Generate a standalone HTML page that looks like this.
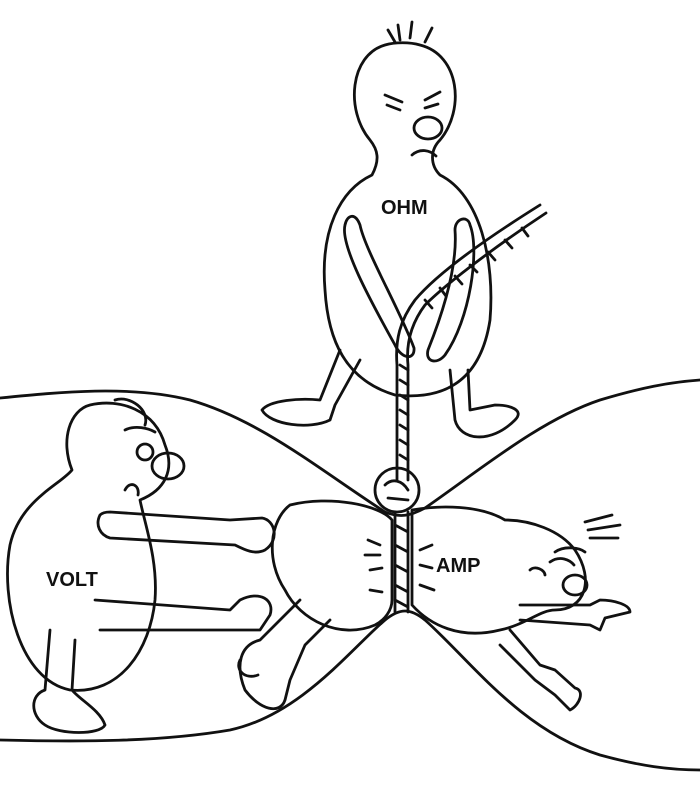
<!DOCTYPE html>
<html><head><style>
html,body{margin:0;padding:0;background:#fff;width:700px;height:789px;overflow:hidden}
svg{display:block}
text{font-family:"Liberation Sans",sans-serif;font-weight:bold;font-size:20px;fill:#111}
</style></head><body>
<svg width="700" height="789" viewBox="0 0 700 789" fill="none" stroke="#111" stroke-width="2.8" stroke-linecap="round" stroke-linejoin="round">
<!-- pipe -->
<path d="M0,398 C60,392 130,385 190,400 C260,420 320,470 385,512 C400,518 410,516 425,508 C480,470 540,420 600,400 C640,388 670,382 700,380"/>
<path d="M0,740 C80,742 160,742 230,730 C300,715 350,650 385,620 C400,608 410,608 425,620 C470,660 520,730 600,755 C640,766 670,770 700,770"/>
<!-- OHM -->
<path d="M385,45 C350,55 345,110 370,140 C378,150 380,160 372,175 C340,190 320,230 325,290 C328,340 345,380 395,395 C440,400 480,385 490,320 C495,260 480,195 440,175 C430,165 430,150 440,140 C465,110 460,55 420,45 C410,42 395,42 385,45Z"/>
<path d="M400,40 L398,25 M410,38 L412,22 M425,42 L432,28 M395,42 L388,30"/>
<path d="M385,95 L402,102 M425,100 L440,92 M387,105 L400,110 M425,108 L438,104"/>
<ellipse cx="428" cy="128" rx="14" ry="11"/>
<path d="M412,155 C420,148 430,150 436,156"/>
<path d="M345,225 C340,245 370,300 395,345 C402,360 415,360 414,348 C400,310 365,250 360,225 C355,212 347,215 345,225Z"/>
<path d="M470,225 C480,250 470,320 445,355 C437,365 425,362 428,350 C440,320 458,270 455,230 C455,218 468,215 470,225Z"/>
<path d="M340,350 L320,400 C300,398 270,400 262,410 C270,425 310,430 330,420 L335,405 L360,360"/>
<path d="M450,370 L455,420 C460,440 490,445 515,420 C525,410 510,405 495,405 L470,410 L468,370"/>
<!-- rope -->
<path d="M540,205 C500,230 440,270 415,300 C400,320 395,340 397,365 L397,480"/>
<path d="M546,213 C505,240 450,280 425,305 C410,325 406,345 408,365 L408,480"/>
<path d="M400,365 L408,370 M400,380 L408,385 M400,395 L408,400 M400,410 L408,415 M400,425 L408,430 M400,440 L408,445 M400,455 L408,460 M425,300 L432,308 M440,288 L446,296 M455,276 L462,284 M470,265 L477,272 M488,252 L495,260 M505,240 L512,248 M522,228 L528,236"/>
<ellipse cx="397" cy="490" rx="22" ry="22"/>
<path d="M385,485 C392,478 402,480 408,490 M388,498 L408,500"/>
<path d="M395,512 L395,612 M408,512 L408,612 M395,525 L408,532 M395,545 L408,552 M395,565 L408,572 M395,585 L408,592 M395,600 L408,607"/>
<!-- VOLT -->
<path d="M90,405 C70,410 60,440 72,470 C60,485 20,500 10,545 C0,600 20,680 70,690 C120,695 150,650 155,600 C158,560 145,525 140,500 C165,490 175,470 165,445 C155,410 120,398 90,405Z"/>
<path d="M115,400 C130,395 150,410 145,425"/>
<ellipse cx="168" cy="466" rx="16" ry="13"/>
<circle cx="145" cy="452" r="8"/>
<path d="M125,430 C135,425 148,428 155,432 M125,490 C130,480 140,485 138,495"/>
<path d="M100,515 C95,525 100,535 110,538 L235,545 C245,550 255,555 265,550 C280,540 275,520 262,518 L230,520 L110,512 C105,512 102,513 100,515Z"/>
<path d="M95,600 L230,610 L240,600 C260,590 275,600 270,615 L260,630 L232,630 L100,630"/>
<path d="M50,630 L45,690 C30,695 30,715 45,725 C60,735 100,735 105,725 C100,710 80,700 72,690 L75,640"/>
<!-- AMP -->
<path d="M290,505 C270,520 265,560 285,590 C300,620 340,640 375,625 C385,620 392,610 392,600 L392,520 C380,505 330,495 290,505Z"/>
<path d="M412,510 C440,505 480,505 505,520 C530,520 560,530 575,550 C595,580 585,610 555,610 C540,610 525,625 500,630 C460,640 430,625 412,605Z"/>
<path d="M585,522 L612,515 M588,530 L620,525 M590,538 L618,538 M555,552 C565,545 580,548 585,552 M550,562 C560,555 570,560 574,565"/>
<ellipse cx="575" cy="585" rx="12" ry="10"/>
<path d="M530,570 C535,565 545,570 545,575"/>
<path d="M520,605 L590,605 L600,600 C615,600 630,605 630,612 L605,618 L600,630 L590,625 L520,620"/>
<path d="M510,630 L540,665 L555,670 L575,688 C585,690 580,705 570,710 L555,695 L535,680 L500,645"/>
<path d="M300,600 L260,640 C240,645 235,665 245,690 C260,710 280,715 285,700 L290,680 L305,645 L330,620"/>
<path d="M240,660 C235,670 245,680 258,675"/>
<path d="M368,540 L380,545 M365,555 L380,555 M370,570 L382,568 M370,590 L382,592 M420,550 L432,545 M420,565 L432,568 M420,585 L434,590"/>
<text x="381" y="214" stroke="none">OHM</text>
<text x="46" y="586" stroke="none">VOLT</text>
<text x="436" y="572" stroke="none">AMP</text>
</svg>
</body></html>
